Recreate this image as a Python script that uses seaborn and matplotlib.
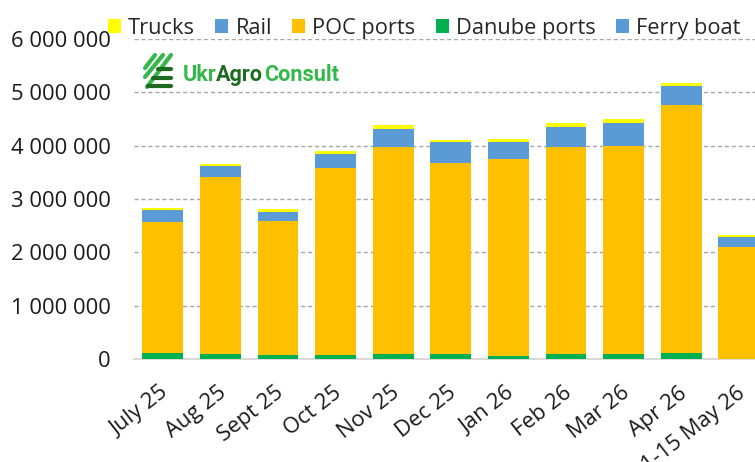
import matplotlib
matplotlib.use("Agg")
import matplotlib.pyplot as plt
from matplotlib.transforms import ScaledTranslation
import numpy as np
import seaborn as sns

months = ["July 25", "Aug 25", "Sept 25", "Oct 25", "Nov 25", "Dec 25",
          "Jan 26", "Feb 26", "Mar 26", "Apr 26", "1-15 May 26"]
ferry = [5000, 5000, 5000, 5000, 5000, 5000, 5000, 5000, 5000, 5000, 0]
danube = [105000, 90000, 65000, 70000, 90000, 85000, 50000, 90000, 90000, 105000, 0]
poc = [2465000, 3315000, 2520000, 3505000, 3875000, 3590000, 3695000, 3875000, 3905000, 4650000, 2100000]
rail = [220000, 210000, 170000, 270000, 350000, 380000, 310000, 380000, 430000, 350000, 190000]
trucks = [35000, 40000, 60000, 50000, 60000, 50000, 60000, 70000, 70000, 60000, 30000]

series = [("Ferry boat", ferry, "#5b9bd5"), ("Danube ports", danube, "#00b050"),
          ("POC ports", poc, "#ffc000"), ("Rail", rail, "#5b9bd5"), ("Trucks", trucks, "#ffff00")]
legend_order = ["Trucks", "Rail", "POC ports", "Danube ports", "Ferry boat"]
yticks = [0, 1000000, 2000000, 3000000, 4000000, 5000000, 6000000]

sns.set_style("white")
plt.rcParams["font.family"] = ["Open Sans", "DejaVu Sans"]

fig = plt.figure(figsize=(7.55, 4.62), dpi=100)
ax = fig.add_axes([134 / 755, 103 / 462, 633.6 / 755, 320 / 462])

bottom = np.zeros(len(months))
for name, vals, col in series:
    sns.barplot(x=months, y=vals, bottom=bottom, color=col, width=0.71, label=name,
                ax=ax, errorbar=None, saturation=1, linewidth=0, legend=False, zorder=3)
    bottom += np.array(vals)

ax.set_xlim(-0.5, 10.5)
ax.set_ylim(0, 6000000)
ax.set_yticks(yticks)
ax.set_yticklabels([f"{v:,}".replace(",", " ") for v in yticks], fontsize=15.8, color="#1a1a1a")
ax.grid(axis="y", color="#a6a6a6", linestyle=(0, (3, 2)), linewidth=1, zorder=0)
ax.set_axisbelow(True)
sns.despine(ax=ax, left=True)
ax.spines["bottom"].set_color("#d9d9d9")
ax.spines["bottom"].set_linewidth(1.5)
ax.tick_params(axis="both", length=0, pad=3)
ax.tick_params(axis="y", pad=17)
ax.tick_params(axis="x", pad=17)
shift = ScaledTranslation(-3 / 100, 0, fig.dpi_scale_trans)
for lab in ax.get_xticklabels():
    lab.set(rotation=38, ha="right", rotation_mode="anchor", fontsize=15.8, color="#1a1a1a")
    lab.set_transform(lab.get_transform() + shift)

handles, labels = ax.get_legend_handles_labels()
by_label = dict(zip(labels, handles))
fig.legend([by_label[n] for n in legend_order], legend_order, loc="upper left",
           bbox_to_anchor=(108 / 755, 1 - 18 / 462), ncol=5, frameon=False, fontsize=15.7,
           handlelength=0.6, handleheight=0.6, handletextpad=0.32, columnspacing=0.93,
           borderaxespad=0, borderpad=0, labelcolor="#262626")

# logo
green = "#35b84b"
dark = "#1f6b22"
for x0, y0, x1, y1 in [(145, 68, 155, 55), (145, 77, 163, 55), (147, 87, 171, 55)]:
    fig.add_artist(plt.Line2D([x0 / 755, x1 / 755], [1 - y0 / 462, 1 - y1 / 462],
                              color=green, lw=3))
for x0, y in [(158, 69), (153, 78), (148, 86)]:
    fig.add_artist(plt.Line2D([x0 / 755, 171 / 755], [1 - y / 462, 1 - y / 462],
                              color=dark, lw=3))
fig.text(183 / 755, 1 - 75 / 462, "Ukr", fontsize=15.6, fontweight="bold", color=green,
         va="center", family="Roboto")
fig.text(216 / 755, 1 - 75 / 462, "Agro", fontsize=15.6, fontweight="bold", color=dark,
         va="center", family="Roboto")
fig.text(264 / 755, 1 - 75 / 462, "Consult", fontsize=15.6, fontweight="bold", color=green,
         va="center", family="Roboto")

fig.savefig("out.png", dpi=100)
